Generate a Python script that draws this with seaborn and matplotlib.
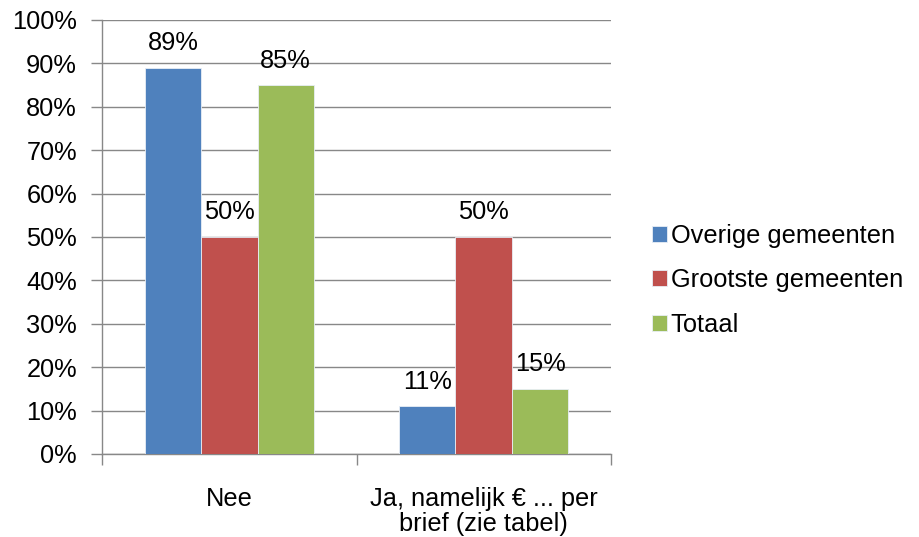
import pandas as pd
import matplotlib.pyplot as plt
import seaborn as sns
from matplotlib.ticker import MultipleLocator, PercentFormatter

categories = ["Nee", "Ja, namelijk € ... per\nbrief (zie tabel)"]
series = ["Overige gemeenten", "Grootste gemeenten", "Totaal"]
overige = [89, 11]
grootste = [50, 50]
totaal = [85, 15]
colors = ["#4F81BD", "#C0504D", "#9BBB59"]

df = pd.DataFrame({
    "categorie": categories * 3,
    "reeks": [series[0]] * 2 + [series[1]] * 2 + [series[2]] * 2,
    "waarde": overige + grootste + totaal,
})

sns.set_style("white")
plt.rcParams["font.family"] = ["Liberation Sans", "DejaVu Sans"]
plt.rcParams["text.color"] = "black"
plt.rcParams["xtick.labelcolor"] = "black"
plt.rcParams["ytick.labelcolor"] = "black"
fs = 18.3

fig = plt.figure(figsize=(9.2, 5.37), dpi=100)
ax = fig.add_axes([0.111, 0.1546, 0.553, 0.8082])

sns.barplot(data=df, x="categorie", y="waarde", hue="reeks", palette=colors,
            width=0.665, ax=ax, zorder=3, saturation=1, legend=True,
            edgecolor="#e8eef6", linewidth=0.6)

for c in ax.containers:
    ax.bar_label(c, labels=[f"{v:.0f}%" for v in c.datavalues], padding=9,
                 fontsize=fs, color="black")

ax.set_ylim(0, 100)
ax.set_xlim(-0.5, 1.5)
ax.yaxis.set_major_locator(MultipleLocator(10))
ax.yaxis.set_major_formatter(PercentFormatter(decimals=0))
ax.grid(axis="y", color="#888888", linewidth=1, zorder=0)
ax.set_axisbelow(True)
ax.set_xlabel("")
ax.set_ylabel("")

for s in ["top", "right"]:
    ax.spines[s].set_visible(False)
for s in ["left", "bottom"]:
    ax.spines[s].set_color("#888888")
    ax.spines[s].set_linewidth(1)

ax.tick_params(axis="y", length=8, color="#888888", width=1, labelsize=fs, pad=10, left=True)
ax.tick_params(axis="x", length=0, labelsize=fs, pad=24)
ax.set_xticks([0, 1])
ax.set_xticklabels(categories, linespacing=1.05)
ax.set_xticks([-0.5, 0.5, 1.5], minor=True)
ax.tick_params(axis="x", which="minor", length=8, color="#888888", width=1, bottom=True)

handles, labels = ax.get_legend_handles_labels()
leg = ax.legend(handles, labels, loc="center left", bbox_to_anchor=(1.06, 0.40),
                frameon=False, fontsize=fs, handlelength=0.6, handleheight=0.6,
                handletextpad=0.15, labelspacing=0.8, borderaxespad=0)
for t in leg.get_texts():
    t.set_color("black")

fig.savefig("out.png", dpi=100)
